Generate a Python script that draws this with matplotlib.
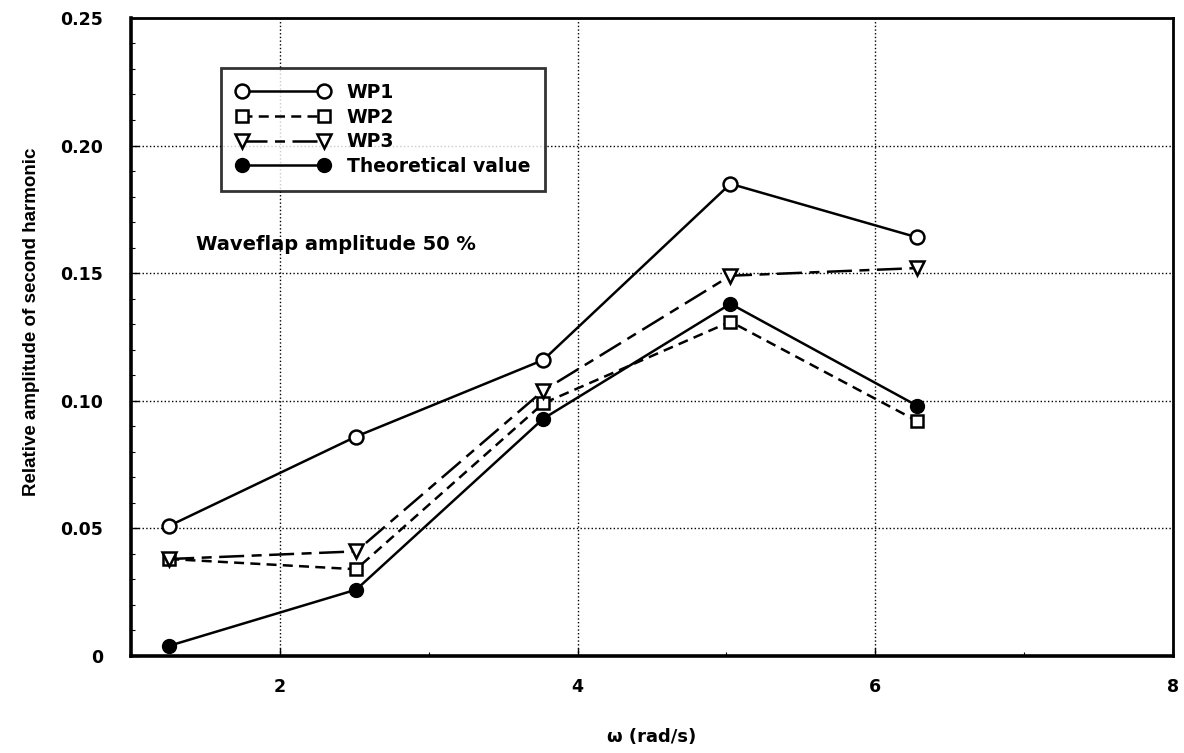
import numpy as np
import matplotlib.pyplot as plt
from matplotlib.ticker import MultipleLocator

plt.rcParams['font.family'] = ['Liberation Sans', 'DejaVu Sans']

# wave frequencies (rad/s)
omega = [1.257, 2.513, 3.770, 5.027, 6.283]

wp1 = [0.051, 0.086, 0.116, 0.185, 0.164]
wp2 = [0.038, 0.034, 0.099, 0.131, 0.092]
wp3 = [0.038, 0.041, 0.104, 0.149, 0.152]
theory = [0.004, 0.026, 0.093, 0.138, 0.098]

fig = plt.figure(figsize=(11.84, 7.53), dpi=100)
ax = fig.add_axes([0.1106, 0.1288, 0.8801, 0.8474])

lw = 1.8
ms = 10
ax.plot(omega, wp1, '-', color='black', lw=lw, marker='o', ms=ms,
        mfc='white', mec='black', mew=1.8, label='WP1')
ax.plot(omega, wp2, color='black', lw=lw, ls=(0, (4, 2.5)), marker='s', ms=ms - 1,
        mfc='white', mec='black', mew=1.8, label='WP2')
ax.plot(omega, wp3, color='black', lw=lw, ls=(0, (10, 3, 4, 3)), marker='v', ms=ms,
        mfc='white', mec='black', mew=1.8, label='WP3')
ax.plot(omega, theory, '-', color='black', lw=lw, marker='o', ms=ms,
        mfc='black', mec='black', label='Theoretical value')

ax.set_xlim(1, 8)
ax.set_ylim(0, 0.25)
ax.set_xticks([2, 4, 6, 8])
ax.set_yticks([0, 0.05, 0.10, 0.15, 0.20, 0.25])
ax.set_yticklabels(['0', '0.05', '0.10', '0.15', '0.20', '0.25'])
ax.xaxis.set_minor_locator(MultipleLocator(1))
ax.yaxis.set_minor_locator(MultipleLocator(0.01))
ax.tick_params(which='both', direction='in', top=False, right=False)
ax.tick_params(which='major', length=6, width=1, labelsize=12.5)
ax.tick_params(axis='x', which='major', pad=16)
ax.tick_params(axis='y', which='major', pad=20)
ax.tick_params(which='minor', length=3, width=0.8)
for lab in ax.get_xticklabels() + ax.get_yticklabels():
    lab.set_family('DejaVu Sans')
    lab.set_fontweight('bold')

ax.grid(True, which='major', ls=':', color='black', lw=1)
for s in ax.spines.values():
    s.set_linewidth(2)
ax.spines['bottom'].set_linewidth(2.6)
ax.spines['left'].set_linewidth(2.6)

ax.set_xlabel('ω (rad/s)', fontsize=13, fontweight='bold', family='DejaVu Sans')
ax.xaxis.set_label_coords(0.5, -0.113)
ax.set_ylabel('Relative amplitude of second harmonic', fontsize=13.5, fontweight='bold')
ax.yaxis.set_label_coords(-0.0873, 0.5235)

ax.text(1.44, 0.1612, 'Waveflap amplitude 50 %', fontsize=14, fontweight='bold',
        family='DejaVu Sans', va='center', ha='left')

leg = ax.legend(loc='upper left', bbox_to_anchor=(0.0864, 0.9216), frameon=True,
                fancybox=False, edgecolor='black', handlelength=5.0,
                prop={'size': 13.5, 'weight': 'bold', 'family': 'DejaVu Sans'},
                borderpad=0.8, labelspacing=0.3, handletextpad=0.9,
                borderaxespad=0, numpoints=2)
leg.get_frame().set_linewidth(2)

fig.savefig('out.png', dpi=100, facecolor='white')
